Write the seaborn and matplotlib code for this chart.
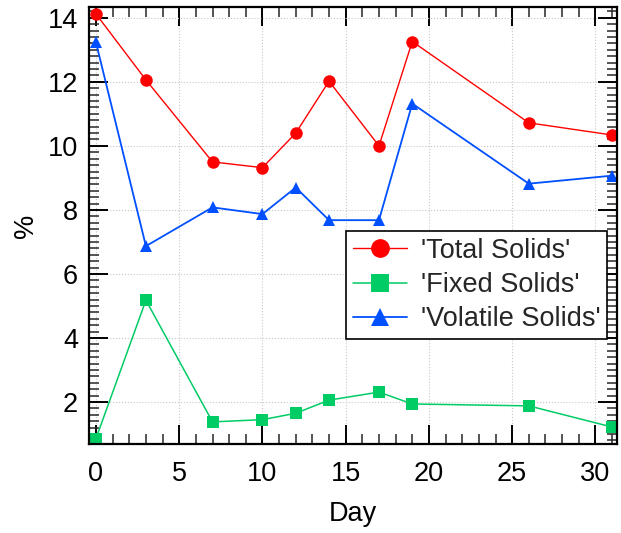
import matplotlib
matplotlib.use("Agg")
import matplotlib.pyplot as plt
import seaborn as sns
import pandas as pd
from matplotlib.ticker import MultipleLocator

days = [0, 3, 7, 10, 12, 14, 17, 19, 26, 31]
total_solids = [14.12, 12.06, 9.5, 9.32, 10.4, 12.02, 10.0, 13.26, 10.72, 10.34]
fixed_solids = [0.86, 5.18, 1.38, 1.45, 1.65, 2.06, 2.31, 1.94, 1.88, 1.22]
volatile_solids = [13.23, 6.87, 8.08, 7.87, 8.7, 7.68, 7.68, 11.32, 8.82, 9.07]
series_names = ["'Total Solids'", "'Fixed Solids'", "'Volatile Solids'"]
colors = ["#FF0000", "#00CC66", "#0050FF"]

df = pd.DataFrame({
    "Day": days * 3,
    "value": total_solids + fixed_solids + volatile_solids,
    "series": [series_names[0]] * len(days) + [series_names[1]] * len(days) + [series_names[2]] * len(days),
})

sns.set_theme(style="white")
plt.rcParams["font.family"] = ["Liberation Sans", "DejaVu Sans"]

fig = plt.figure(figsize=(6.21, 5.33), dpi=100)
ax = fig.add_axes([0.1433, 0.167, 0.8503, 0.82])

markers = {series_names[0]: "o", series_names[1]: "s", series_names[2]: "^"}
sizes_ms = {series_names[0]: 9, series_names[1]: 8.2, series_names[2]: 9}
widths = {series_names[0]: 1.0, series_names[1]: 1.1, series_names[2]: 1.3}
for name, col in zip(series_names, colors):
    sub = df[df["series"] == name]
    sns.lineplot(data=sub, x="Day", y="value", ax=ax, color=col, marker=markers[name],
                 markersize=sizes_ms[name], markeredgewidth=0, linewidth=widths[name],
                 label=name, estimator=None, sort=False)

ax.set_xlim(-0.42, 31.3)
ax.set_ylim(0.69, 14.34)
ax.xaxis.set_major_locator(MultipleLocator(5))
ax.xaxis.set_minor_locator(MultipleLocator(1))
ax.yaxis.set_major_locator(MultipleLocator(2))
ax.yaxis.set_minor_locator(MultipleLocator(0.2))
ax.grid(True, which="major", color="#c8c8c8", linestyle=":", linewidth=0.8)
ax.tick_params(which="major", direction="in", length=14, width=1.4, top=True, right=True,
               labelsize=19.5, colors="black")
ax.tick_params(axis="x", which="major", pad=12)
ax.tick_params(axis="y", which="major", pad=8)
ax.tick_params(which="minor", direction="in", length=7, width=1.1, top=True, right=True)
ax.tick_params(axis="both", which="both", bottom=True, left=True)
for s in ax.spines.values():
    s.set_color("black")
    s.set_linewidth(1.6)
ax.set_xlabel("Day", fontsize=19.5, color="black", labelpad=10)
ax.set_ylabel("%", fontsize=19.5, color="black", labelpad=6)

leg = ax.legend(loc="upper left", bbox_to_anchor=(0.487, 0.487), fontsize=19.5, frameon=True,
                fancybox=False, edgecolor="black", framealpha=1, borderpad=0.25,
                borderaxespad=0, handlelength=2.0, handletextpad=0.5, labelspacing=0.3,
                markerscale=1.5)
leg.get_frame().set_linewidth(1.2)

fig.savefig("out.png", dpi=100)
